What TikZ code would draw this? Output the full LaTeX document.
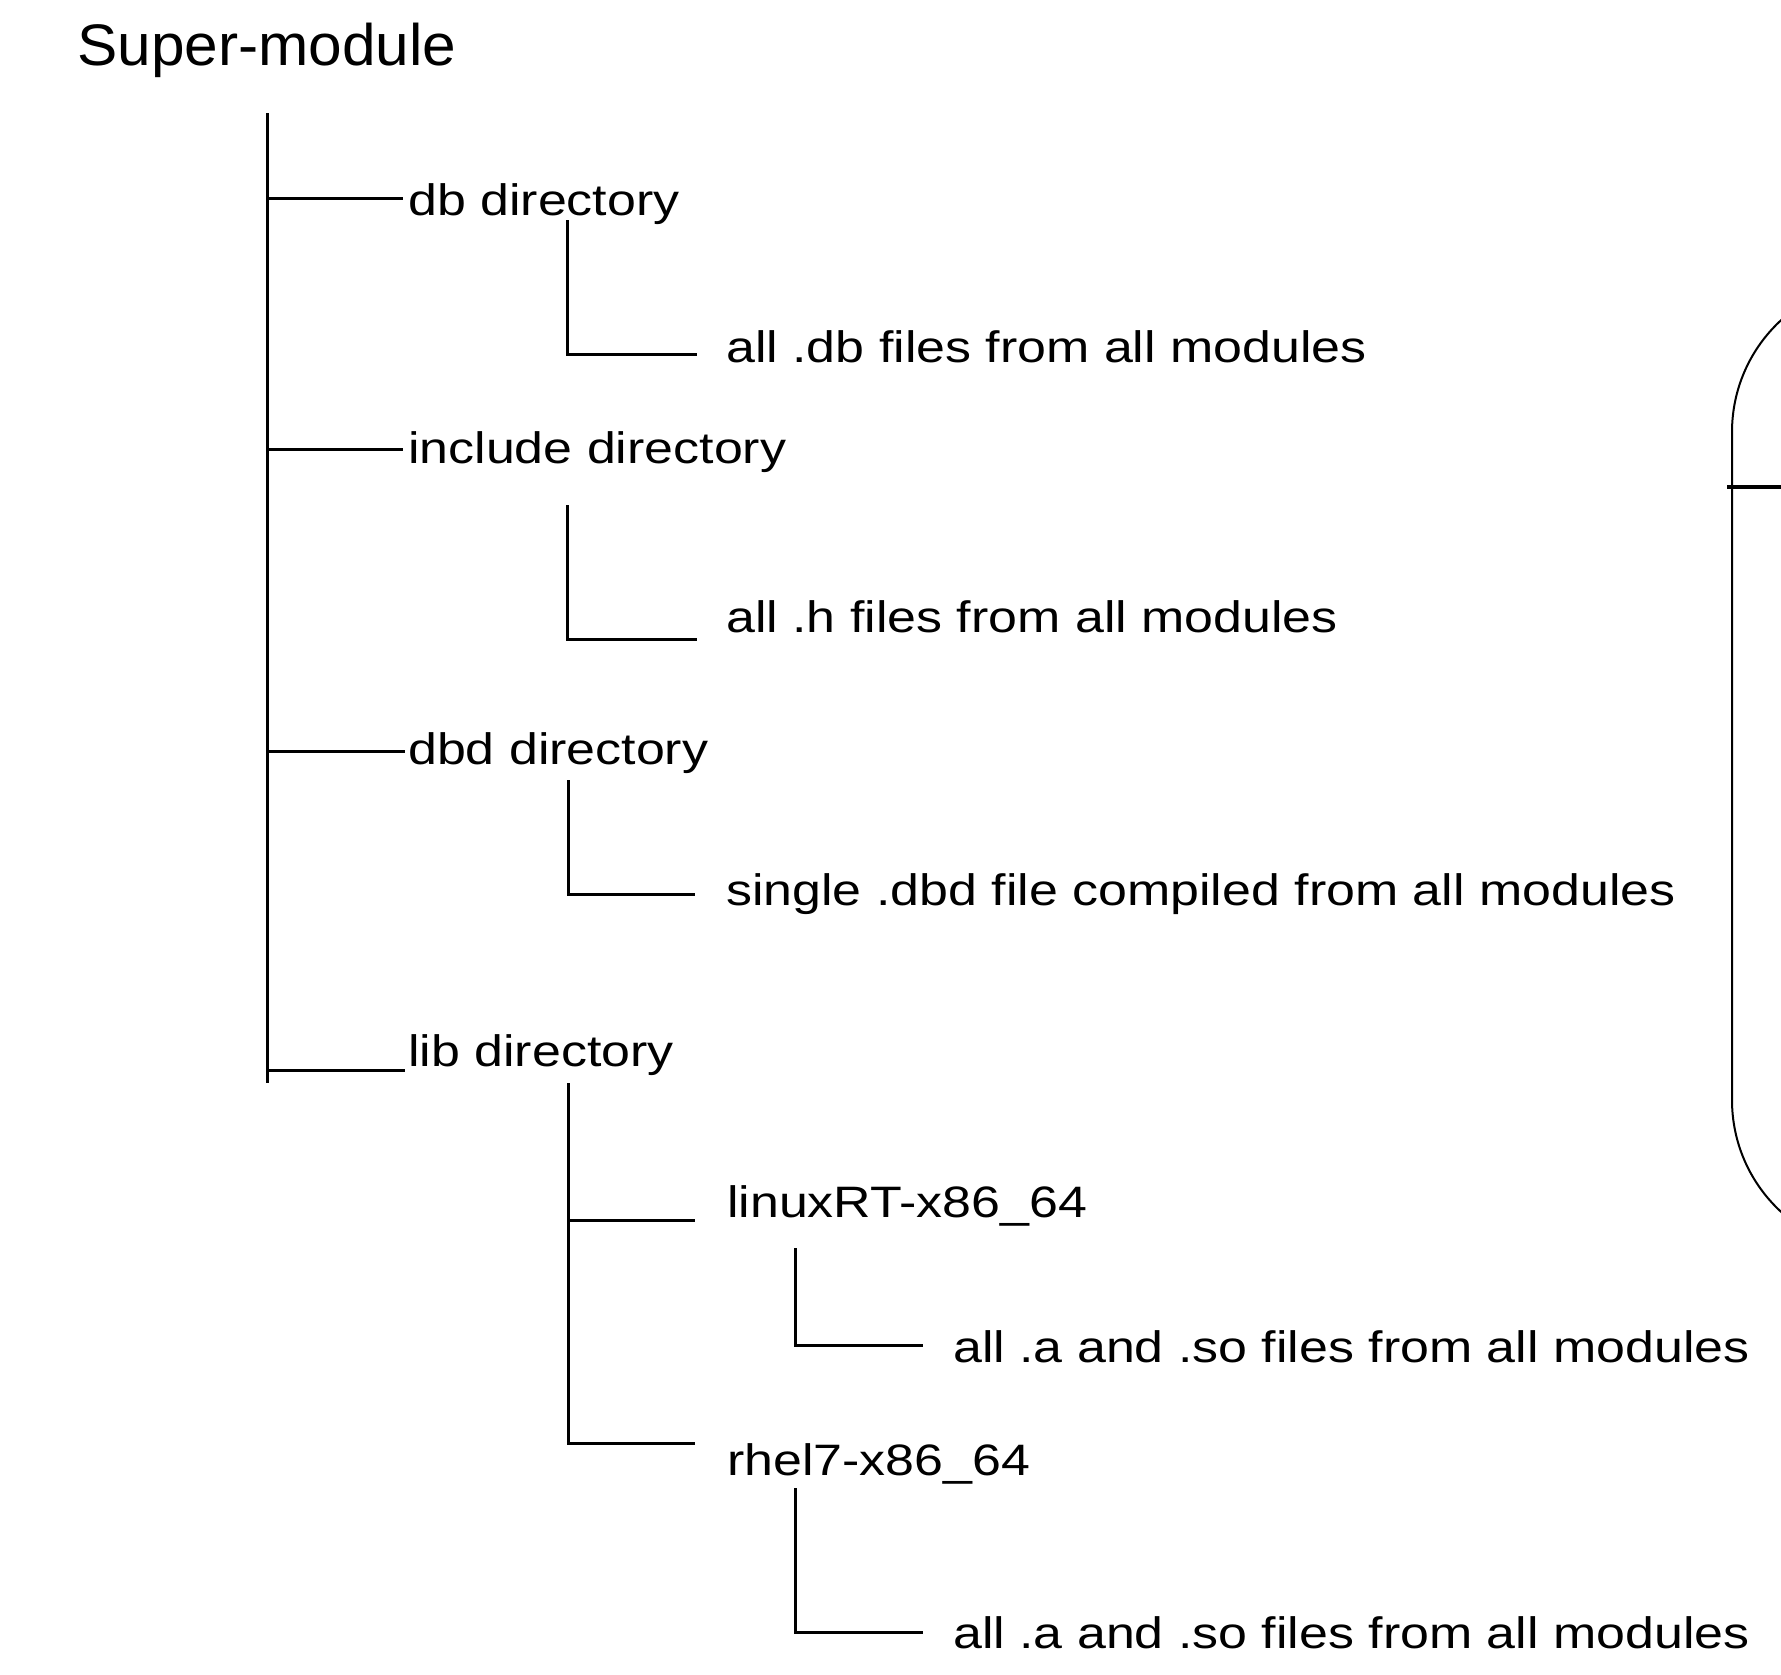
\documentclass[tikz,border=0pt]{standalone}
\usepackage{fontspec}
\setmainfont{Liberation Sans}
\newfontfamily\labfont[FakeStretch=1.18]{Liberation Sans}
\newfontfamily\titlefont[FakeStretch=1.03]{Liberation Sans}
\begin{document}
\begin{tikzpicture}[x=1pt,y=-1pt,
  lab/.style={anchor=base west,inner sep=0pt,font=\labfont\fontsize{44}{50}\selectfont},
  ttl/.style={anchor=base west,inner sep=0pt,font=\titlefont\fontsize{58.6}{66}\selectfont},
  tree/.style={line width=3pt},
  frame/.style={line width=2pt},
  bar/.style={line width=4pt}]
\clip (0,0) rectangle (1781,1674);
\fill[white] (0,0) rectangle (1781,1674);

% texts
\node[ttl] (sm) at (77,65) {Super-module};
\node[lab] (db) at (408,215) {db directory};
\node[lab] (adb) at (726,362) {all .db files from all modules};
\node[lab] (inc) at (408,463) {include directory};
\node[lab] (ah) at (726,632) {all .h files from all modules};
\node[lab] (dbd) at (408,764) {dbd directory};
\node[lab] (sdbd) at (726,905) {single .dbd file compiled from all modules};
\node[lab] (lib) at (408,1066) {lib directory};
\node[lab] (lrt) at (727,1217) {linuxRT-x86\_64};
\node[lab] (alrt) at (953,1362) {all .a and .so files from all modules};
\node[lab] (rh) at (727,1475) {rhel7-x86\_64};
\node[lab] (arh) at (953,1648) {all .a and .so files from all modules};

% level 1 trunk
\coordinate (t0) at (267,113);
\coordinate (t1) at (267,1083);
\draw[tree] (t0) -- (t1);
\coordinate (b1) at (267,198);  \coordinate (e1) at (403,198);
\coordinate (b2) at (267,449);  \coordinate (e2) at (403,449);
\coordinate (b3) at (267,751);  \coordinate (e3) at (405,751);
\coordinate (b4) at (267,1070); \coordinate (e4) at (405,1070);
\draw[tree] (b1) -- (e1);
\draw[tree] (b2) -- (e2);
\draw[tree] (b3) -- (e3);
\draw[tree] (b4) -- (e4);

% level 2
\coordinate (s1) at (567,220);  \coordinate (f1) at (697,354);
\coordinate (s2) at (567,505);  \coordinate (f2) at (697,639);
\coordinate (s3) at (568,780);  \coordinate (f3) at (695,894);
\draw[tree] (s1) |- (f1);
\draw[tree] (s2) |- (f2);
\draw[tree] (s3) |- (f3);
\coordinate (s4) at (568,1083); \coordinate (f4) at (695,1443);
\coordinate (g4) at (568,1220); \coordinate (h4) at (695,1220);
\draw[tree] (s4) |- (f4);
\draw[tree] (g4) -- (h4);

% level 3
\coordinate (s5) at (795,1248); \coordinate (f5) at (923,1345);
\coordinate (s6) at (795,1488); \coordinate (f6) at (923,1632);
\draw[tree] (s5) |- (f5);
\draw[tree] (s6) |- (f6);

% partial rounded box at right edge
\draw[frame, rounded corners=152pt] (1732,280) rectangle (1960,1252);
\coordinate (r0) at (1727,487);
\coordinate (r1) at (1790,487);
\draw[bar] (r0) -- (r1);
\end{tikzpicture}
\end{document}
